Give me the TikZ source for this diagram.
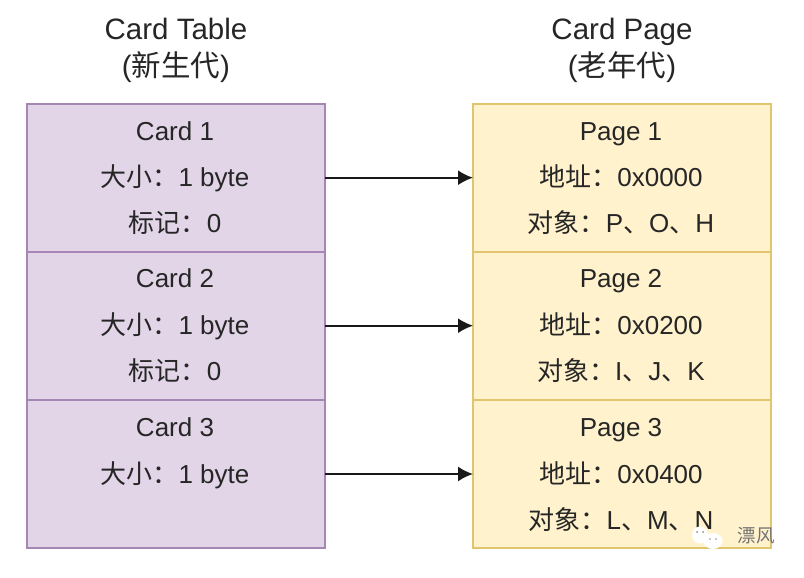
\documentclass[tikz,border=0pt]{standalone}
\usepackage{fontspec}
\setmainfont{Liberation Sans}
\newfontfamily\cjk{Noto Sans CJK SC}
\usetikzlibrary{arrows.meta}
\definecolor{pfill}{HTML}{E1D5E7}
\definecolor{pline}{HTML}{A586B5}
\definecolor{yfill}{HTML}{FFF2CC}
\definecolor{yline}{HTML}{E0C56E}
\tikzset{
 x=1pt,y=-1pt,
 cardbox/.style={draw=pline,fill=pfill,line width=2pt,outer sep=0pt,minimum width=298pt,minimum height=148pt,inner sep=0pt,anchor=north west},
 pagebox/.style={draw=yline,fill=yfill,line width=2pt,outer sep=0pt,minimum width=298pt,minimum height=148pt,inner sep=0pt,anchor=north west},
 txt/.style={font=\fontsize{26}{30}\selectfont,text=black!85,inner sep=0pt,anchor=base},
 ttl/.style={txt,font=\fontsize{29.5}{34}\selectfont},
 link/.style={draw=black!90,line width=1.8pt,-{Latex[length=15pt,width=15pt]}},
}
\begin{document}
\begin{tikzpicture}
\useasboundingbox (0,0) rectangle (804,578);
\fill[white] (0,0) rectangle (804,578);
\node[cardbox] (c1) at (27,103.7) {};
\node[cardbox] (c2) at (27,251.7) {};
\node[cardbox] (c3) at (27,400) {};
\node[pagebox] (p1) at (473,103.7) {};
\node[pagebox] (p2) at (473,251.7) {};
\node[pagebox] (p3) at (473,400) {};
\node[ttl] (t1) at (176,40) {Card Table};
\node[ttl] (t2) at (176,76.5) {({\cjk 新生代})};
\node[ttl] (t3) at (622,40) {Card Page};
\node[ttl] (t4) at (622,76.5) {({\cjk 老年代})};
\node[txt] (a1) at (175,140) {Card 1};
\node[txt] (a2) at (175,186) {{\cjk 大小：}1 byte};
\node[txt] (a3) at (175,232) {{\cjk 标记：}0};
\node[txt] (b1) at (175,287.5) {Card 2};
\node[txt] (b2) at (175,334) {{\cjk 大小：}1 byte};
\node[txt] (b3) at (175,380) {{\cjk 标记：}0};
\node[txt] (d1) at (175,436) {Card 3};
\node[txt] (d2) at (175,483) {{\cjk 大小：}1 byte};
\node[txt] (e1) at (621,140) {Page 1};
\node[txt] (e2) at (621,186) {{\cjk 地址：}0x0000};
\node[txt] (e3) at (621,232) {{\cjk 对象：}P{\cjk 、}O{\cjk 、}H};
\node[txt] (f1) at (621,287.5) {Page 2};
\node[txt] (f2) at (621,334) {{\cjk 地址：}0x0200};
\node[txt] (f3) at (621,380) {{\cjk 对象：}I{\cjk 、}J{\cjk 、}K};
\node[txt] (g1) at (621,436) {Page 3};
\node[txt] (g2) at (621,483) {{\cjk 地址：}0x0400};
\node[txt] (g3) at (621,529) {{\cjk 对象：}L{\cjk 、}M{\cjk 、}N};
\draw[link] (c1.east) -- (p1.west);
\draw[link] (c2.east) -- (p2.west);
\draw[link] (c3.east) -- (p3.west);
% watermark
\fill[white] (700,535) ellipse (8pt and 8.5pt);
\fill[white] (713,541) ellipse (9.5pt and 8pt);
\fill[black!45] (697,532) circle (1pt) (703,532) circle (1pt) (710,539) circle (0.9pt) (716,539) circle (0.9pt);
\node[txt,font=\fontsize{18.5}{20}\selectfont,text=black!55,anchor=center] (w) at (756,536) {{\cjk 漂风}};
\end{tikzpicture}
\end{document}
